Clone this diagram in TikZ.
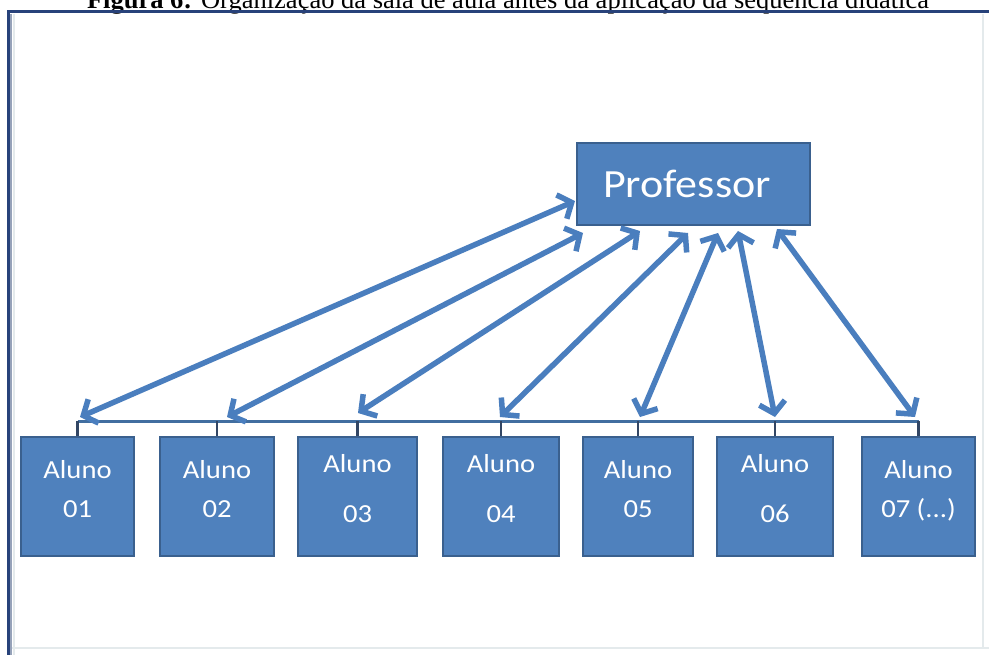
\documentclass[tikz,border=0pt]{standalone}
\usepackage{graphicx}
\usepackage{fontspec}
\setmainfont{Liberation Serif}
\newfontfamily\carlito{Carlito}
\usetikzlibrary{arrows.meta,calc}
\definecolor{boxblue}{RGB}{79,129,189}
\definecolor{boxedge}{RGB}{58,96,142}
\definecolor{arrowblue}{RGB}{74,126,190}
\definecolor{barblue}{RGB}{65,110,160}
\definecolor{tickdark}{RGB}{50,70,100}
\definecolor{framenavy}{RGB}{40,66,122}
\definecolor{framegray}{RGB}{150,162,185}
\definecolor{faint}{RGB}{228,234,236}
\newcommand\widetxt[1]{\scalebox{1.1}[1]{#1}}
\begin{document}
\begin{tikzpicture}[x=1pt,y=-1pt,
  box/.style={draw=boxedge, line width=1.4pt, fill=boxblue, text=white,
    inner sep=0pt, align=center, minimum height=119pt, text depth=16pt},
  tight/.style={font=\carlito\fontsize{26}{39}\selectfont},
  loose/.style={font=\carlito\fontsize{26}{50}\selectfont},
  profbox/.style={draw=boxedge, line width=1.4pt, fill=boxblue, text=white,
    inner sep=0pt, minimum width=233pt, minimum height=82pt,
    font=\carlito\fontsize{40}{44}\selectfont},
  arr/.style={arrowblue, line width=5.5pt,
    {Straight Barb[length=11pt,width=26pt]}-{Straight Barb[length=11pt,width=26pt]}},
  bar/.style={barblue, line width=3.5pt},
  tickln/.style={tickdark, line width=2.5pt}]
\useasboundingbox (0,0) rectangle (989,655);
\clip (0,0) rectangle (989,655);
\fill[white] (0,0) rectangle (989,655);
% caption
\node[anchor=base, inner sep=0pt, font=\fontsize{26.5}{30}\selectfont] (cap) at (508,8.5)
  {\textbf{Figura 6:} Organização da sala de aula antes da aplicação da sequência didática};
% frame
\draw[faint, line width=1.2pt] (12,648) -- (989,648);
\draw[faint, line width=1.2pt] (983,14) -- (983,648);
\draw[framegray, line width=2pt] (11.2,14) -- (11.2,655);
\draw[faint, line width=2pt] (14,14) -- (14,655);
\draw[framenavy, line width=3pt] (8,655) -- (8,12) -- (989,12);
% professor
\node[profbox] (prof) at (693.5,184) {\makebox[233pt][l]{\hspace{26pt}\widetxt{Professor}}};
% students
\node[box, tight, minimum width=113pt] (a1) at (77.5,496.5) {\widetxt{Aluno}\\\widetxt{01}};
\node[box, tight, minimum width=114pt] (a2) at (217,496.5) {\widetxt{Aluno}\\\widetxt{02}};
\node[box, loose, minimum width=119pt] (a3) at (357.5,496.5) {\widetxt{Aluno}\\\widetxt{03}};
\node[box, loose, minimum width=116pt] (a4) at (501,496.5) {\widetxt{Aluno}\\\widetxt{04}};
\node[box, tight, minimum width=110pt] (a5) at (638,496.5) {\widetxt{Aluno}\\\widetxt{05}};
\node[box, loose, minimum width=116pt] (a6) at (775,496.5) {\widetxt{Aluno}\\\widetxt{06}};
\node[box, tight, minimum width=113pt] (a7) at (918.5,496.5) {\widetxt{Aluno}\\\widetxt{07 (...)}};
% bracket
\draw[bar] ($(a1.north)+(0,-15)$) -- ($(a7.north)+(0,-15)$);
\foreach \i in {1,...,7} {
  \draw[tickln] (a\i.north) -- ++(0,-15);
}
% arrow end points
\coordinate (l1) at (80,417);
\coordinate (l2) at (227,417);
\coordinate (l3) at (358,413);
\coordinate (l4) at (500,417);
\coordinate (l5) at (640,417);
\coordinate (l6) at (775,417);
\coordinate (l7) at (915,417);
\coordinate (u1) at (575,201);
\coordinate (u2) at (583,233);
\coordinate (u3) at (640,231);
\coordinate (u4) at (688,233);
\coordinate (u5) at (718,233);
\coordinate (u6) at (738,231);
\coordinate (u7) at (777,229);
\foreach \i in {1,...,7} {
  \draw[arr] (l\i) -- (u\i);
}
\end{tikzpicture}
\end{document}
